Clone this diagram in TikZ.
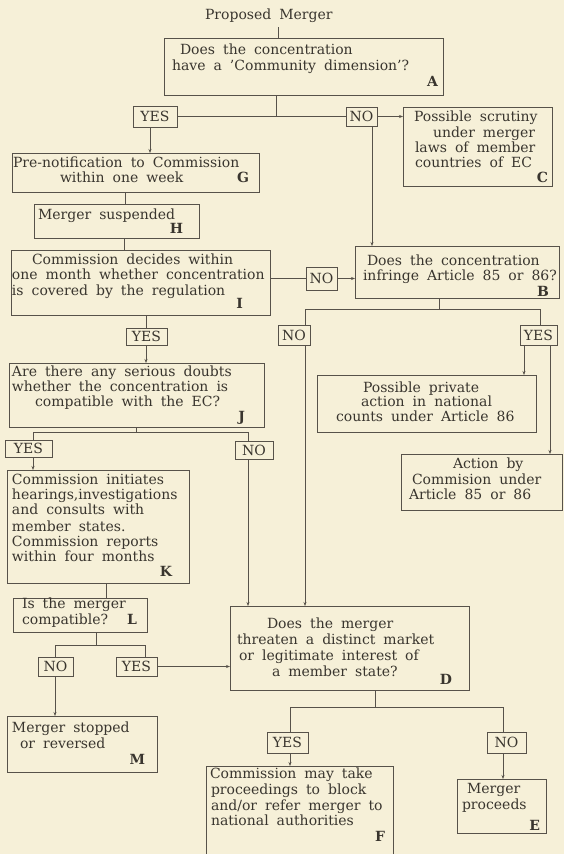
\documentclass[tikz,border=0pt]{standalone}
\usepackage{fontspec}
\setmainfont{DejaVu Serif}[WordSpace=1.8]
\usetikzlibrary{fit,arrows.meta}
\definecolor{paper}{HTML}{F6F0D8}
\definecolor{ink}{HTML}{39352E}
\definecolor{rulec}{HTML}{57524A}
\tikzset{
 box/.style={draw=rulec, line width=0.6pt, inner sep=0pt, outer sep=0pt},
 tag/.style={box, font=\fontsize{14}{16}\selectfont, text=ink},
 txt/.style={anchor=base west, inner sep=0pt, outer sep=0pt, font=\fontsize{14}{16}\selectfont, text=ink},
 lbl/.style={anchor=base east, inner sep=0pt, outer sep=0pt, font=\fontsize{14}{16}\selectfont\bfseries, text=ink},
 wire/.style={draw=rulec, line width=0.6pt},
 arr/.style={wire, -{Stealth[length=4pt,width=3pt]}},
}
\newcommand\putline[4]{\node[txt] (#1) at (#2,#3) {#4};}
\newcommand\putlbl[4]{\node[lbl] (#1) at (#2,#3) {#4};}
\newcommand\tagbox[6]{\node[tag, minimum width=#4pt, minimum height=#5pt] (#1) at (#2,#3) {#6};}
\begin{document}
\begin{tikzpicture}[x=1pt,y=-1pt]
\fill[paper] (0,0) rectangle (564,854);
\useasboundingbox (0,0) rectangle (564,854);

% ---------- boxes ----------
\node[box, fit={(164,38) (443,95)}] (A) {};
\node[box, fit={(403,107) (552,186)}] (C) {};
\node[box, fit={(12,153) (259,192)}] (G) {};
\node[box, fit={(34,204) (199,238)}] (H) {};
\node[box, fit={(11,250) (270,315)}] (I) {};
\node[box, fit={(355,246) (559,298)}] (B) {};
\node[box, fit={(317,375) (536,432)}] (P) {};
\node[box, fit={(401,454) (562,510)}] (Q) {};
\node[box, fit={(9,363) (264,427)}] (J) {};
\node[box, fit={(7,470) (189,583)}] (K) {};
\node[box, fit={(13,598) (147,632)}] (L) {};
\node[box, fit={(7,716) (157,772)}] (M) {};
\node[box, fit={(230,606) (469,690)}] (D) {};
\node[box, fit={(457,779) (546,833)}] (E) {};
\node[fit={(206,766) (393,854)}, inner sep=0pt, outer sep=0pt] (F) {};
\draw[wire] (F.south west) |- (F.north east) -- (F.south east);

% ---------- yes / no tags ----------
\tagbox{Y1}{155}{116.5}{44}{21}{YES}
\tagbox{N1}{361.5}{116.5}{31}{19}{NO}
\tagbox{N2}{321.5}{278.5}{31}{23}{NO}
\tagbox{Y2}{146.5}{336.5}{41}{17}{YES}
\tagbox{N3}{294}{335}{32}{20}{NO}
\tagbox{Y3}{538.5}{335}{37}{20}{YES}
\tagbox{Y4}{28.5}{448.5}{47}{17}{YES}
\tagbox{N4}{254}{450}{38}{18}{NO}
\tagbox{N5}{55.5}{666.5}{35}{19}{NO}
\tagbox{Y5}{136.5}{666.5}{41}{19}{YES}
\tagbox{Y6}{287.5}{742.5}{41}{21}{YES}
\tagbox{N6}{506.5}{742.5}{39}{21}{NO}

% ---------- texts ----------
\putline{title}{205}{19}{Proposed Merger}
\putline{a1}{180}{54}{Does the concentration}
\putline{a2}{172}{70}{have a 'Community dimension'?}
\putlbl{al}{438}{86}{A}
\putline{c1}{414}{121}{Possible scrutiny}
\putline{c2}{433}{137}{under merger}
\putline{c3}{415}{152}{laws of member}
\putline{c4}{415}{167}{countries of EC}
\putlbl{cl}{548}{182}{C}
\putline{g1}{13}{167}{Pre-notification to Commission}
\putline{g2}{60}{182}{within one week}
\putlbl{gl}{249}{182}{G}
\putline{h1}{38}{219}{Merger suspended}
\putlbl{hl}{183}{233}{H}
\putline{i1}{32}{264}{Commission decides within}
\putline{i2}{12}{279}{one month whether concentration}
\putline{i3}{12}{295}{is covered by the regulation}
\putlbl{il}{243}{308}{I}
\putline{b1}{367}{265}{Does the concentration}
\putline{b2}{363}{280}{infringe Article 85 or 86?}
\putlbl{bl}{549}{296}{B}
\putline{p1}{363}{392}{Possible private}
\putline{p2}{361}{406}{action in national}
\putline{p3}{336}{421}{counts under Article 86}
\putline{q1}{453}{468}{Action by}
\putline{q2}{412}{484}{Commision under}
\putline{q3}{409}{499}{Article 85 or 86}
\putline{j1}{12}{376}{Are there any serious doubts}
\putline{j2}{12}{391}{whether the concentration is}
\putline{j3}{35}{406}{compatible with the EC?}
\putlbl{jl}{245}{421}{J}
\putline{k1}{12}{484}{Commission initiates}
\putline{k2}{12}{499}{hearings,investigations}
\putline{k3}{12}{514}{and consults with}
\putline{k4}{12}{531}{member states.}
\putline{k5}{12}{546}{Commission reports}
\putline{k6}{12}{561}{within four months}
\putlbl{kl}{172}{576}{K}
\putline{l1}{22}{608}{Is the merger}
\putline{l2}{22}{624}{compatible?}
\putlbl{ll}{137}{624}{L}
\putline{m1}{12}{732}{Merger stopped}
\putline{m2}{20}{748}{or reversed}
\putlbl{ml}{145}{764}{M}
\putline{d1}{267}{628}{Does the merger}
\putline{d2}{237}{644}{threaten a distinct market}
\putline{d3}{239}{660}{or legitimate interest of}
\putline{d4}{272}{676}{a member state?}
\putlbl{dl}{452}{684}{D}
\putline{f1}{210}{778}{Commission may take}
\putline{f2}{211}{794}{proceedings to block}
\putline{f3}{211}{810}{and/or refer merger to}
\putline{f4}{211}{825}{national authorities}
\putlbl{fl}{385}{841}{F}
\putline{e1}{467}{793}{Merger}
\putline{e2}{462}{809}{proceeds}
\putlbl{el}{540}{830}{E}

% ---------- connectors ----------
\coordinate (t0) at (278,27);
\draw[wire] (t0) -- (t0 |- A.north);
\coordinate (jA) at (276,116.5);
\draw[wire] (A.south -| jA) -- (jA);
\draw[wire] (Y1.east) -- (N1.west);
\draw[arr] (N1.east) -- (N1.east -| C.west);
\coordinate (xNB) at (372,0);
\draw[arr] (N1.south -| xNB) -- (B.north -| xNB);
\coordinate (xYG) at (150,0);
\draw[arr] (Y1.south -| xYG) -- (G.north -| xYG);
\coordinate (xGH) at (125,0);
\draw[wire] (G.south -| xGH) -- (H.north -| xGH);
\coordinate (xHI) at (124,0);
\draw[wire] (H.south -| xHI) -- (I.north -| xHI);
\draw[wire] (I.east |- N2.west) -- (N2.west);
\draw[arr] (N2.east) -- (N2.east -| B.west);
\coordinate (xIY) at (146,0);
\draw[wire] (I.south -| xIY) -- (Y2.north -| xIY);
\draw[arr] (Y2.south -| xIY) -- (J.north -| xIY);
% B split
\coordinate (jB) at (439,309);
\coordinate (jBl) at (305,309);
\coordinate (jBr) at (540,309);
\draw[wire] (B.south -| jB) -- (jB);
\draw[wire] (N3.north -| jBl) -- (jBl) -- (jBr) -- (Y3.north -| jBr);
\draw[arr] (N3.south -| jBl) -- (D.north -| jBl);
\coordinate (xYP) at (524,0);
\draw[arr] (Y3.south -| xYP) -- (P.north -| xYP);
\coordinate (xYQ) at (550,0);
\draw[arr] (Y3.south -| xYQ) -- (Q.north -| xYQ);
% J split
\coordinate (jJ) at (136,432);
\coordinate (jJl) at (33,432);
\coordinate (jJr) at (248,432);
\draw[wire] (J.south -| jJ) -- (jJ);
\draw[wire] (Y4.north -| jJl) -- (jJl) -- (jJr) -- (N4.north -| jJr);
\draw[arr] (Y4.south -| jJl) -- (K.north -| jJl);
\draw[arr] (N4.south -| jJr) -- (D.north -| jJr);
\coordinate (xKL) at (106,0);
\draw[wire] (K.south -| xKL) -- (L.north -| xKL);
% L split
\coordinate (jL) at (96,645);
\coordinate (jLl) at (55,645);
\coordinate (jLr) at (145,645);
\draw[wire] (L.south -| jL) -- (jL);
\draw[wire] (N5.north -| jLl) -- (jLl) -- (jLr) -- (Y5.north -| jLr);
\draw[arr] (Y5.east) -- (Y5.east -| D.west);
\draw[arr] (N5.south -| jLl) -- (M.north -| jLl);
% D split
\coordinate (jD) at (375,707);
\coordinate (jDl) at (290,707);
\coordinate (jDr) at (503,707);
\draw[wire] (D.south -| jD) -- (jD);
\draw[wire] (Y6.north -| jDl) -- (jDl) -- (jDr) -- (N6.north -| jDr);
\draw[arr] (Y6.south -| jDl) -- (F.north -| jDl);
\draw[arr] (N6.south -| jDr) -- (E.north -| jDr);
\end{tikzpicture}
\end{document}
